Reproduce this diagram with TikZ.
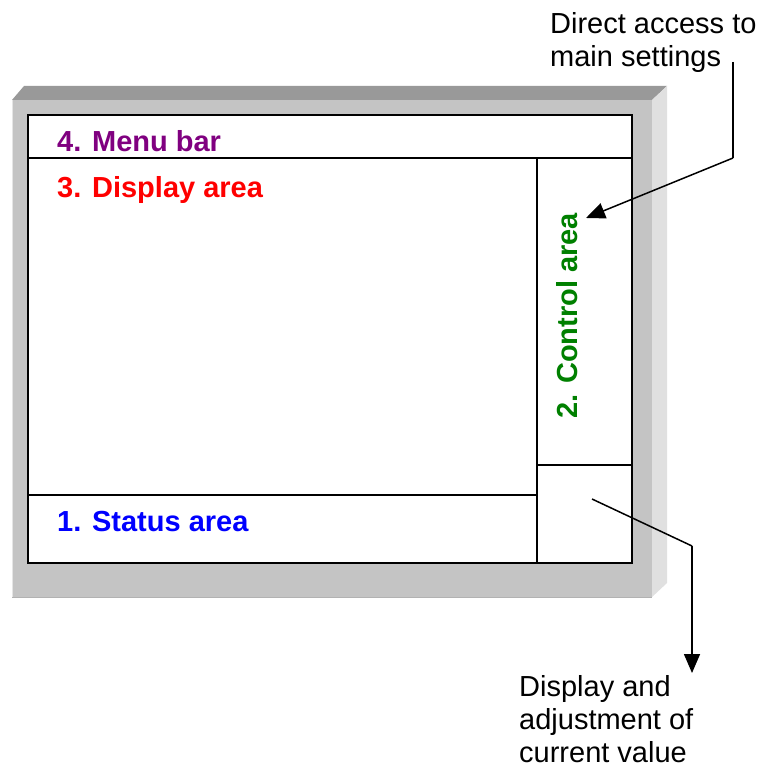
\documentclass[tikz,border=0pt]{standalone}
\usepackage{fontspec}
\setmainfont{Liberation Sans}
\usetikzlibrary{arrows.meta}
\definecolor{bevtop}{HTML}{999999}
\definecolor{face}{HTML}{C4C4C4}
\definecolor{bevside}{HTML}{E0E0E0}
\definecolor{menupurple}{HTML}{800080}
\definecolor{dispred}{HTML}{FF0000}
\definecolor{ctrlgreen}{HTML}{008000}
\definecolor{statblue}{HTML}{0000FF}
\tikzset{
  x=1pt, y=-1pt,
  panel/.style={draw=black, line width=1.5pt, fill=white},
  divider/.style={draw=black, line width=1.5pt},
  arealabel/.style={font=\fontsize{29}{33}\selectfont\bfseries, inner sep=0pt, anchor=base west},
  callout/.style={font=\fontsize{29}{33}\selectfont, inner sep=0pt, align=left, anchor=base west},
  leader/.style={draw=black, line width=1.5pt},
  pointer/.style={leader, -{Triangle[length=19pt,width=16pt]}},
}
\begin{document}
\begin{tikzpicture}
\useasboundingbox (0,0) rectangle (765,767);
% bevelled frame
\fill[bevtop] (12,100) -- (24,86) -- (667,86) -- (652,100) -- cycle;
\fill[bevside] (652,100) -- (667,86) -- (667,583) -- (652,597) -- cycle;
\fill[face] (12,100) rectangle (652,597);
\draw[line width=1pt, color=black!30] (12,597) -- (652,597);
\draw[line width=1pt, color=black!10] (12.5,100) -- (12.5,597);
% inner panel
\draw[panel] (28,115) rectangle (632,563);
\draw[divider] (28,158) -- (632,158);
\draw[divider] (537,158) -- (537,563);
\draw[divider] (537,465) -- (632,465);
\draw[divider] (28,495) -- (537,495);
% area labels
\node[arealabel, text=menupurple] (menu) at (57,152) {4. Menu bar};
\node[arealabel, text=dispred] (disp) at (57,197) {3. Display area};
\node[arealabel, text=statblue] (stat) at (57,531) {1. Status area};
\node[arealabel, text=ctrlgreen, rotate=90] (ctrl) at (577,419) {2. Control area};
% callouts
\node[callout] (direct) at (550,67) {Direct access to\\main settings};
\node[callout] (adjust) at (519,762) {Display and\\adjustment of\\current value};
% leaders
\coordinate (tA) at (733,62);
\coordinate (tB) at (733,158);
\coordinate (tC) at (586,218);
\draw[leader] (tA) -- (tB);
\draw[pointer] (tB) -- (tC);
\coordinate (bA) at (592,499);
\coordinate (bB) at (692,546);
\coordinate (bC) at (692,673);
\draw[leader] (bA) -- (bB);
\draw[pointer] (bB) -- (bC);
\end{tikzpicture}
\end{document}
